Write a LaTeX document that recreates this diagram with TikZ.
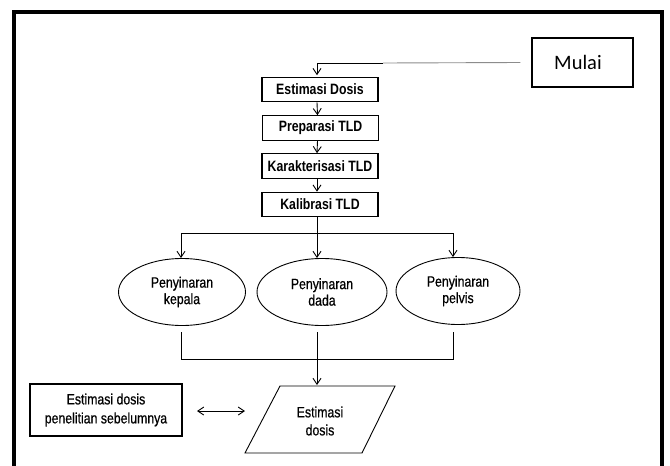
\documentclass[tikz,border=0pt]{standalone}
\usepackage{fontspec}
\usetikzlibrary{arrows.meta,calc,shapes.geometric}
\newfontfamily\narrowfont[FakeStretch=0.82,FakeBold=0.6]{Liberation Sans}
\newfontfamily\narrowbf[FakeStretch=0.82]{Liberation Sans Bold}
\newfontfamily\calibfont{Carlito}
\tikzset{
  stepbox/.style={draw=black,line width=1.1pt,minimum width=116pt,minimum height=24.5pt,inner sep=0pt,
    font=\narrowbf\fontsize{15}{16}\selectfont},
  ellbox/.style={draw=black,line width=0.9pt,ellipse,minimum width=127pt,minimum height=67pt,inner sep=0pt,align=center,
    font=\narrowfont\fontsize{15}{16.5}\selectfont},
  txt/.style={align=center,inner sep=0pt,font=\narrowfont\fontsize{15}{18}\selectfont},
  conn/.style={draw=black,line width=0.9pt},
  arr/.style={conn,-{Straight Barb[length=6pt,width=8pt]}},
  darr/.style={conn,{Straight Barb[length=6pt,width=8pt]}-{Straight Barb[length=6pt,width=8pt]}},
}
\begin{document}
\begin{tikzpicture}[x=1pt,y=-1pt]
\useasboundingbox (0,0) rectangle (670,466);
\fill[white] (0,0) rectangle (670,466);
% outer frame
\draw[line width=4pt] (14,466) -- (14,12) -- (662,12) -- (662,466);

% Mulai
\node[draw=black,line width=1.2pt,minimum width=101pt,minimum height=49pt,inner sep=0pt,
  font=\calibfont\fontsize{20.5}{22}\selectfont] (mulai) at (582.5,62.5) {\hspace*{-9pt}Mulai};

% process boxes
\node[stepbox] (e1) at (320,89.5) {Estimasi Dosis};
\node[stepbox] (e2) at (320.5,128) {Preparasi TLD};
\node[stepbox] (e3) at (320,166) {Karakterisasi TLD};
\node[stepbox] (e4) at (320,204.5) {Kalibrasi TLD};

% Mulai connector
\coordinate (mstart) at ([xshift=-11pt]mulai.west);
\coordinate (msplit) at (383,63);
\coordinate (mcorner) at (317,63);
\draw[conn,draw=black!45] (mstart) -- (msplit);
\draw[conn] (msplit) -- (mcorner);
\draw[arr] (mcorner) -- ([xshift=-3pt,yshift=1.5pt]e1.north);

\draw[arr] ([xshift=-3pt]e1.south) -- ([xshift=-3pt]e2.north);
\draw[arr] ([xshift=-3pt]e2.south) -- ([xshift=-3pt]e3.north);
\draw[arr] ([xshift=-3pt]e3.south) -- ([xshift=-3pt]e4.north);

% ellipses
\node[ellbox] (k) at (182,292) {Penyinaran\\kepala};
\node[ellbox,minimum width=130pt] (d) at (322,292) {Penyinaran\\dada};
\node[ellbox,minimum width=124pt] (p) at (458,291) {Penyinaran\\pelvis};

% branch
\coordinate (bmid) at (317,233);
\coordinate (bl) at (181,233);
\coordinate (br) at (453,233);
\draw[conn] ([xshift=-3pt]e4.south) -- (bmid);
\draw[conn] (bl) -- (br);
\draw[arr] (bl) -- (bl |- k.north);
\draw[arr] (bmid) -- (bmid |- d.north);
\draw[arr] (br) -- (br |- p.north);

% parallelogram
\coordinate (ptl) at (280,386);
\coordinate (ptr) at (395,386);
\coordinate (pbr) at (362,453);
\coordinate (pbl) at (245,453);
\draw[line width=0.9pt,line join=miter] (ptl) -- (ptr) -- (pbr) -- (pbl) -- cycle;
\node[txt] (est) at (320,421) {Estimasi\\dosis};

% merge
\coordinate (ml) at (181,332);
\coordinate (mm) at (317,332);
\coordinate (mr) at (453,332);
\coordinate (bbl) at (181,359);
\coordinate (bbr) at (453,359);
\draw[conn] (ml) -- (bbl) -- (bbr) -- (mr);
\draw[arr] (mm) -- (317,385);

% left box
\node[draw=black,line width=1.1pt,minimum width=152pt,minimum height=52pt,inner sep=0pt,align=center,
  font=\narrowfont\fontsize{15}{19}\selectfont] (lb) at (106,410) {Estimasi dosis\\penelitian sebelumnya};
\coordinate (dl) at (197,411);
\coordinate (dr) at (245,411);
\draw[darr] (dl) -- (dr);
\end{tikzpicture}
\end{document}
